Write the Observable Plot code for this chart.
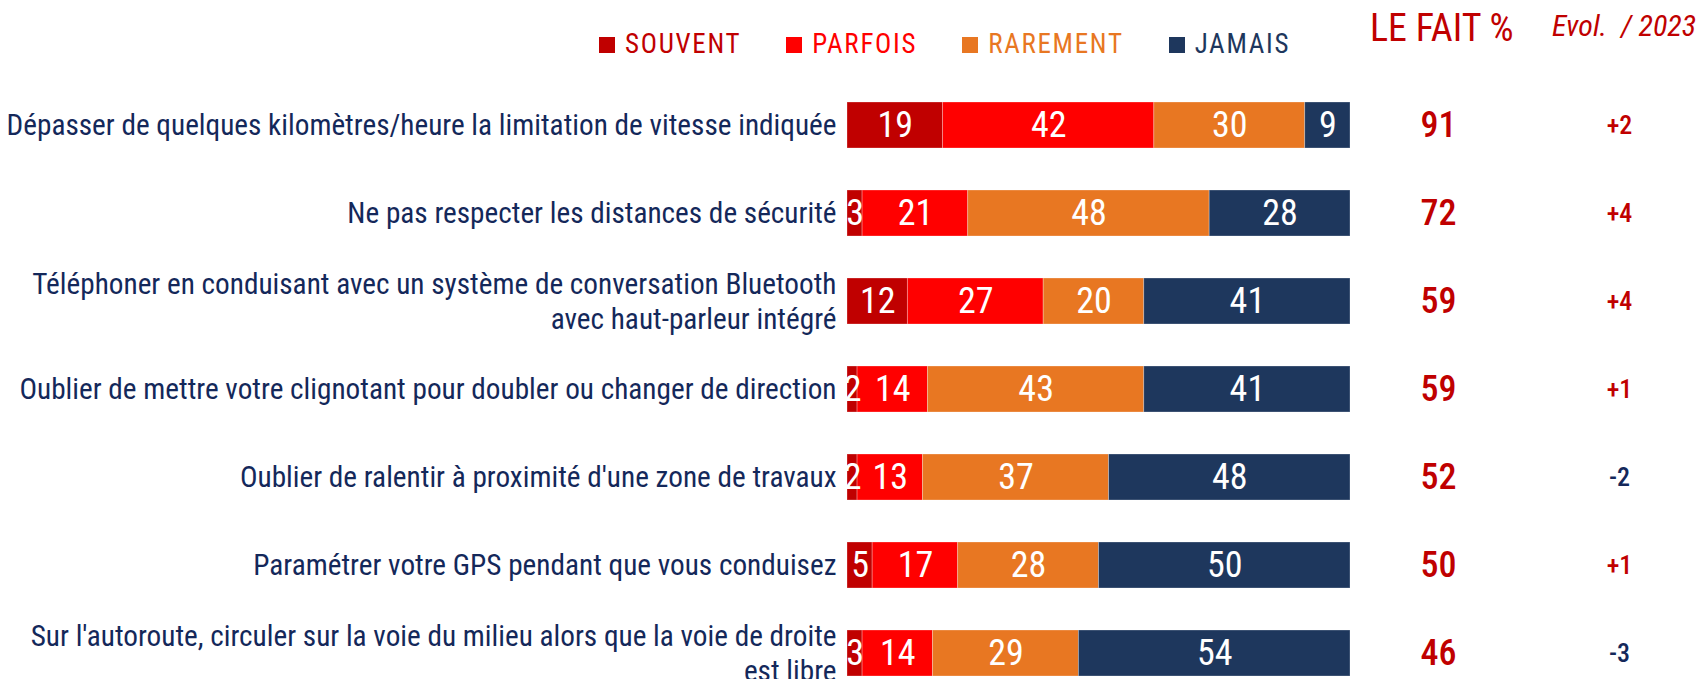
<!DOCTYPE html>
<html><head><meta charset="utf-8">
<script src="https://cdn.jsdelivr.net/npm/d3@7"></script>
<script src="https://cdn.jsdelivr.net/npm/@observablehq/plot@0.6"></script>
<style>
html,body{margin:0;padding:0;background:#fff;}
body{font-family:"Roboto Condensed","Open Sans",sans-serif;width:1698px;overflow:hidden;}
#header{position:relative;height:72px;width:1698px;}
#legend{position:absolute;left:599px;top:31px;display:flex;gap:45px;font-size:27px;letter-spacing:1.7px;line-height:1;}
#legend .item{display:flex;align-items:center;}
#legend .sw{width:16px;height:16px;margin-right:10px;}
#fait{position:absolute;left:1370px;top:9px;font-size:38px;line-height:1;color:#C00000;}
#evolh{position:absolute;left:1552px;top:11px;font-size:30px;line-height:1;color:#C00000;font-style:italic;white-space:pre;}
</style>
</head><body>
<div id="header"><div id="legend"></div><div id="fait"></div><div id="evolh"></div></div>
<div id="chart"></div>
<script>
const items = [
  "Dépasser de quelques kilomètres/heure la limitation de vitesse indiquée",
  "Ne pas respecter les distances de sécurité",
  "Téléphoner en conduisant avec un système de conversation Bluetooth\navec haut-parleur intégré",
  "Oublier de mettre votre clignotant pour doubler ou changer de direction",
  "Oublier de ralentir à proximité d'une zone de travaux",
  "Paramétrer votre GPS pendant que vous conduisez",
  "Sur l'autoroute, circuler sur la voie du milieu alors que la voie de droite\nest libre"
];
const souvent  = [19, 3, 12, 2, 2, 5, 3];
const parfois  = [42, 21, 27, 14, 13, 17, 14];
const rarement = [30, 48, 20, 43, 37, 28, 29];
const jamais   = [9, 28, 41, 41, 48, 50, 54];
const leFait   = [91, 72, 59, 59, 52, 50, 46];
const evol     = ["+2", "+4", "+4", "+1", "-2", "+1", "-3"];
const seriesNames  = ["SOUVENT", "PARFOIS", "RAREMENT", "JAMAIS"];
const seriesColors = ["#C00000", "#FF0000", "#E87722", "#1E375D"];
const headerFait = "LE FAIT %";
const headerEvol = "Evol.  / 2023";

const seriesValues = [souvent, parfois, rarement, jamais];
const data = [];
items.forEach((item, i) => {
  seriesNames.forEach((s, j) => data.push({item, series: s, value: seriesValues[j][i]}));
});
const rows = items.map((item, i) => ({item, fait: leFait[i], evol: evol[i]}));

// header
const legend = document.getElementById("legend");
seriesNames.forEach((s, j) => {
  const it = document.createElement("div"); it.className = "item";
  const sw = document.createElement("div"); sw.className = "sw"; sw.style.background = seriesColors[j];
  const tx = document.createElement("span"); tx.textContent = s; tx.style.color = seriesColors[j];
  it.appendChild(sw); it.appendChild(tx); legend.appendChild(it);
});
document.getElementById("fait").textContent = headerFait;
document.getElementById("evolh").textContent = headerEvol;

const labelColor = "#14285A";
const chart = Plot.plot({
  width: 1698, height: 607,
  marginLeft: 847, marginRight: 348, marginTop: 28, marginBottom: 0,
  style: {fontFamily: '"Roboto Condensed","Open Sans",sans-serif', background: "#fff"},
  x: {domain: [0, 100], axis: null},
  y: {domain: items, paddingInner: 0.476, paddingOuter: 0, axis: null},
  color: {domain: seriesNames, range: seriesColors},
  marks: [
    Plot.barX(data, Plot.stackX({x: "value", y: "item", fill: "series", z: "series", stroke: "white", strokeOpacity: 0.35, strokeWidth: 0.8})),
    Plot.text(data, Plot.stackX({x: "value", y: "item", z: "series", text: d => String(d.value), fill: "white", fontSize: 36})),
    Plot.text(rows, {y: "item", text: "item", frameAnchor: "left", textAnchor: "end", dx: -11, dy: -1, fill: labelColor, fontSize: 29.25, lineHeight: 1.17}),
    Plot.text(rows, {y: "item", text: d => String(d.fait), frameAnchor: "right", textAnchor: "middle", dx: 88, fill: "#C00000", fontSize: 36, fontWeight: 500}),
    Plot.text(rows, {y: "item", text: "evol", frameAnchor: "right", textAnchor: "middle", dx: 269, fill: d => d.evol.startsWith("-") ? "#14285A" : "#C00000", fontSize: 26, fontWeight: 500})
  ]
});
document.getElementById("chart").appendChild(chart);
</script>
</body></html>
